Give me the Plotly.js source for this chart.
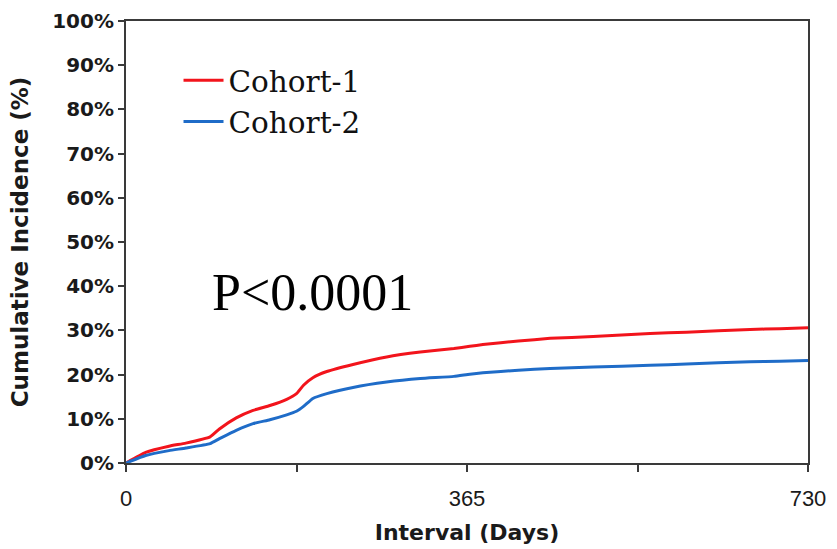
<!DOCTYPE html>
<html>
<head>
<meta charset="utf-8">
<script src="https://cdn.plot.ly/plotly-3.0.1.min.js"></script>
<style>html,body{margin:0;padding:0;background:#fff;}#chart{width:837px;height:549px;}</style>
</head>
<body>
<div id="chart"></div>
<script>
// Days since index
const days = [0, 21, 46, 64, 90, 100, 118, 136, 154, 172, 182.5, 190, 200, 215, 243, 279, 315, 351, 368, 382, 420, 454, 500, 561, 600, 668, 700, 730];
// Cumulative incidence (%)
const cohort1 = [0, 2.4, 3.8, 4.5, 5.9, 7.7, 10.2, 11.9, 13.0, 14.4, 15.7, 17.6, 19.3, 20.7, 22.3, 24.0, 25.1, 25.9, 26.4, 26.8, 27.6, 28.2, 28.6, 29.3, 29.6, 30.2, 30.4, 30.6];
const cohort2 = [0, 1.7, 2.8, 3.4, 4.4, 5.5, 7.4, 8.9, 9.8, 10.9, 11.7, 12.8, 14.6, 15.7, 17.1, 18.3, 19.1, 19.6, 20.1, 20.4, 21.0, 21.4, 21.7, 22.1, 22.4, 22.9, 23.0, 23.2];
const seriesNames = ["Cohort-1", "Cohort-2"];
const xTickVals = [0, 182.5, 365, 547.5, 730];
const xTickText = ["0", "", "365", "", "730"];
const yTickVals = [0, 10, 20, 30, 40, 50, 60, 70, 80, 90, 100];
const yTickText = yTickVals.map(v => v + "%");

const traces = [
  {x: days, y: cohort1, name: seriesNames[0], mode: "lines", line: {color: "#f2141c", width: 3, shape: "spline", smoothing: 0.4}},
  {x: days, y: cohort2, name: seriesNames[1], mode: "lines", line: {color: "#1f6cc8", width: 3, shape: "spline", smoothing: 0.4}}
];

const axisCol = "#3a3a3a";
const layout = {
  width: 837, height: 549,
  margin: {l: 126, r: 29, t: 21, b: 86, pad: 0},
  paper_bgcolor: "#fff", plot_bgcolor: "#fff",
  showlegend: true,
  legend: {
    x: 0.077, y: 0.924, xanchor: "left", yanchor: "top",
    font: {family: "DejaVu Serif, Liberation Serif, serif", size: 29.5, color: "#111"},
    bgcolor: "rgba(0,0,0,0)", itemwidth: 40, tracegroupgap: 0
  },
  xaxis: {
    range: [0, 730], tickvals: xTickVals, ticktext: xTickText,
    ticks: "outside", ticklen: 7, tickwidth: 2, tickcolor: axisCol,
    showline: true, linecolor: axisCol, linewidth: 2, mirror: true,
    showgrid: false, zeroline: false, ticklabelstandoff: 8,
    tickfont: {family: "Liberation Sans Narrow, Liberation Sans, Arial, sans-serif", size: 22, color: "#1a1a1a"},
    title: {text: "Interval (Days)", font: {family: "DejaVu Sans, sans-serif", size: 22, color: "#1a1a1a", weight: "bold"}, standoff: 14}
  },
  yaxis: {
    range: [0, 100], tickvals: yTickVals, ticktext: yTickText,
    ticks: "outside", ticklen: 6, tickwidth: 2, tickcolor: axisCol,
    showline: true, linecolor: axisCol, linewidth: 2, mirror: true,
    showgrid: false, zeroline: false,
    tickfont: {family: "DejaVu Sans, sans-serif", size: 20, color: "#1a1a1a", weight: "bold"},
    title: {text: "Cumulative Incidence (%)", font: {family: "DejaVu Sans, sans-serif", size: 23, color: "#1a1a1a", weight: "bold"}, standoff: 17}
  },
  annotations: [{
    xref: "paper", yref: "paper", x: 0.123, y: 0.385, xanchor: "left", yanchor: "middle",
    text: "P<0.0001", showarrow: false,
    font: {family: "Liberation Serif, Times New Roman, serif", size: 52, color: "#000"}
  }]
};

Plotly.newPlot("chart", traces, layout, {displayModeBar: false, staticPlot: true});
</script>
</body>
</html>
